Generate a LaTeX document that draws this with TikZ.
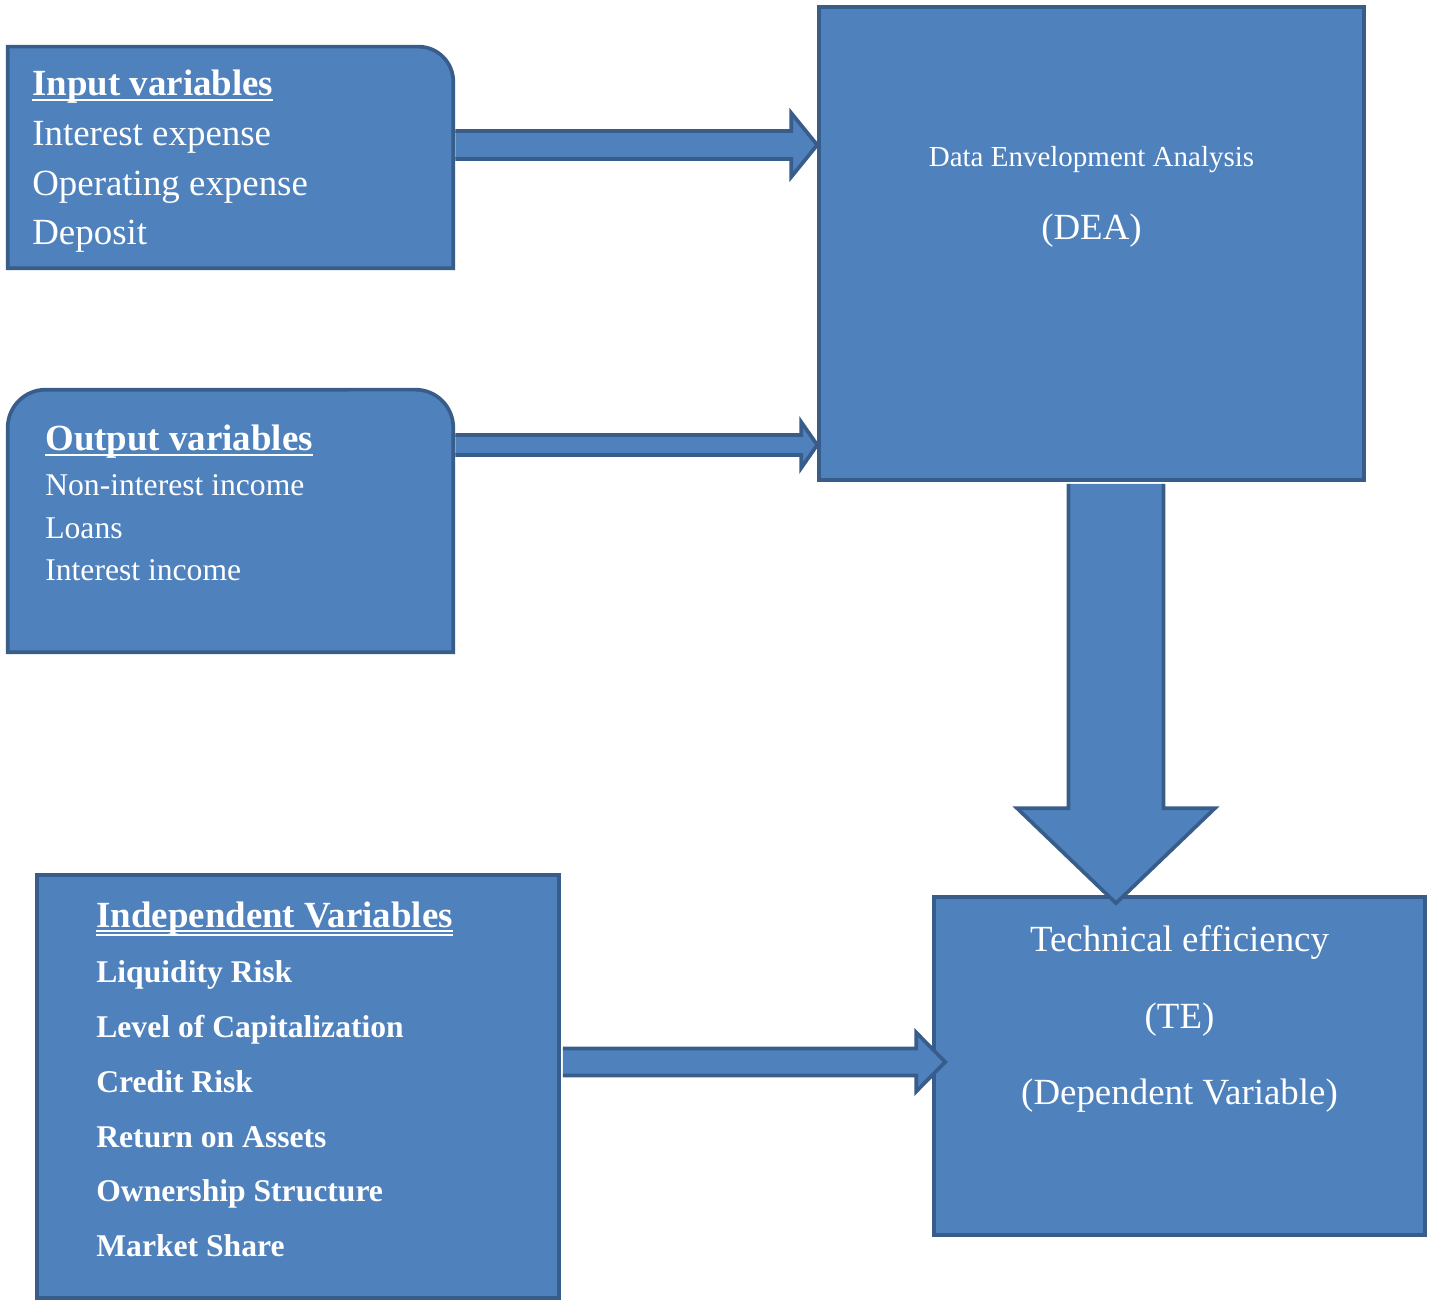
\documentclass[tikz,border=0pt]{standalone}
\usepackage{fontspec}
\setmainfont{Liberation Serif}
\usetikzlibrary{calc}
\definecolor{boxfill}{HTML}{4F81BD}
\definecolor{boxedge}{HTML}{385D8A}
\newsavebox{\ulsave}
\newcommand{\ulword}[1]{\sbox{\ulsave}{#1}\rlap{\rule[-3pt]{\wd\ulsave}{1.2pt}}\usebox{\ulsave}}
\newcommand{\uulword}[1]{\sbox{\ulsave}{#1}\rlap{\rule[-2.6pt]{\wd\ulsave}{0.9pt}}\rlap{\rule[-4.9pt]{\wd\ulsave}{0.9pt}}\usebox{\ulsave}}

\begin{document}
\begin{tikzpicture}[x=0.02cm,y=0.02cm,
    box/.style={draw=boxedge,fill=boxfill,line width=2.1pt,inner sep=0pt},
    shell/.style={inner sep=0pt},
    boxline/.style={draw=boxedge,fill=boxfill,line width=2.1pt},
    arrowline/.style={draw=boxedge,fill=boxfill,line width=2.1pt,line join=miter},
    txt/.style={text=white,inner sep=0pt,align=left}]
    \useasboundingbox (0,0) rectangle (1431,1300);

    % boxes
    \node[shell,minimum width=8.9cm,minimum height=4.42cm]   (in)    at (230.5,1142.5) {};
    \node[shell,minimum width=8.9cm,minimum height=5.24cm]   (out)   at (230.5,779)    {};
    \node[box,minimum width=10.9cm,minimum height=9.46cm]    (dea)   at (1091.5,1056.5) {};
    \node[box,minimum width=9.82cm,minimum height=6.76cm]    (te)    at (1179.5,234)   {};
    \node[box,minimum width=10.44cm,minimum height=8.46cm]   (indep) at (298,213.5)    {};

    \draw[boxline] (in.south west) -- (in.north west) -- ($(in.north east)+(-35,0)$)
        arc[start angle=90,end angle=0,radius=0.7cm] -- (in.south east) -- cycle;
    \draw[boxline] (out.south west) -- ($(out.north west)+(0,-38)$)
        arc[start angle=180,end angle=90,radius=0.76cm] -- ($(out.north east)+(-38,0)$)
        arc[start angle=90,end angle=0,radius=0.76cm] -- (out.south east) -- cycle;

    % block arrows
    \coordinate (a1) at (0,1155);
    \coordinate (a2) at (0,855);
    \coordinate (a3) at (1116,0);
    \coordinate (a4) at (0,238);

    \draw[arrowline] let \p1=(in.east |- a1), \p2=(dea.west |- a1) in
        (\x1+0.04cm,\y1+0.28cm) -- (\x2-0.52cm,\y1+0.28cm) -- (\x2-0.52cm,\y1+0.64cm) -- (\x2,\y1)
        -- (\x2-0.52cm,\y1-0.64cm) -- (\x2-0.52cm,\y1-0.28cm) -- (\x1+0.04cm,\y1-0.28cm);
    \draw[arrowline] let \p1=(out.east |- a2), \p2=(dea.west |- a2) in
        (\x1+0.04cm,\y1+0.2cm) -- (\x2-0.32cm,\y1+0.2cm) -- (\x2-0.32cm,\y1+0.46cm) -- (\x2,\y1)
        -- (\x2-0.32cm,\y1-0.46cm) -- (\x2-0.32cm,\y1-0.2cm) -- (\x1+0.04cm,\y1-0.2cm);
    \draw[arrowline] let \p1=(dea.south -| a3), \p2=(te.north -| a3) in
        (\x1-0.95cm,\y1-0.04cm) -- (\x1-0.95cm,\y2+1.74cm) -- (\x1-1.98cm,\y2+1.74cm) -- (\x1,\y2-0.16cm)
        -- (\x1+1.98cm,\y2+1.74cm) -- (\x1+0.95cm,\y2+1.74cm) -- (\x1+0.95cm,\y1-0.04cm);
    \draw[arrowline] let \p1=(indep.east |- a4), \p2=(te.west |- a4) in
        (\x1+0.04cm,\y1+0.27cm) -- (\x2-0.32cm,\y1+0.27cm) -- (\x2-0.32cm,\y1+0.59cm) -- (\x2+0.26cm,\y1)
        -- (\x2-0.32cm,\y1-0.59cm) -- (\x2-0.32cm,\y1-0.27cm) -- (\x1+0.04cm,\y1-0.27cm);

    % texts (base = last line)
    \node[txt,anchor=base west,font=\fontsize{21}{28.35}\selectfont] (intxt) at (32,1055)
        {\textbf{\ulword{Input variables}}\\Interest expense\\Operating expense\\Deposit};
    \node[txt,anchor=base west,font=\fontsize{18}{24.4}\selectfont] (outtxt) at (45,719)
        {{\fontsize{21}{24.4}\selectfont\textbf{\ulword{Output variables}}}\\[1pt]Non-interest income\\Loans\\Interest income};
    \node[txt,anchor=base,font=\fontsize{16.5}{20}\selectfont] (deaname) at (1091.5,1133) {Data Envelopment Analysis};
    \node[txt,anchor=base,font=\fontsize{21}{25}\selectfont]   (deaabbr) at (1091.5,1060) {(DEA)};
    \node[txt,anchor=base,align=center,font=\fontsize{21}{43.65}\selectfont] (tetxt) at (1179.5,195)
        {Technical efficiency\\(TE)\\(Dependent Variable)};
    \node[txt,anchor=base west,font=\fontsize{18}{31.3}\selectfont\bfseries] (indeptxt) at (96,43)
        {{\fontsize{21}{31.3}\selectfont\uulword{Independent Variables}}\\Liquidity Risk\\Level of Capitalization\\Credit Risk\\Return on Assets\\Ownership Structure\\Market Share};
\end{tikzpicture}
\end{document}
